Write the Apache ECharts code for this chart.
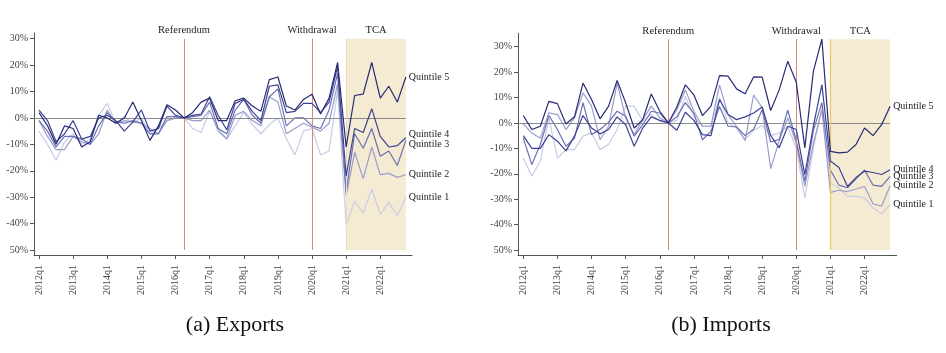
<!DOCTYPE html>
<html>
<head>
<meta charset="utf-8">
<script src="https://cdn.jsdelivr.net/npm/echarts@6/dist/echarts.min.js"></script>
<style>
  html, body { margin: 0; padding: 0; background: #fff; }
  #chart { width: 946px; height: 353px; }
</style>
</head>
<body>
<div id="chart"></div>
<script>
// x is the quarter index: 0 = 2012q1 ... 43 = 2022q4
const yearTicks = [0, 4, 8, 12, 16, 20, 24, 28, 32, 36, 40]
const yearLabels = ['2012q1', '2013q1', '2014q1', '2015q1', '2016q1', '2017q1', '2018q1', '2019q1', '2020q1', '2021q1', '2022q1']
const yTicks = [-50, -40, -30, -20, -10, 0, 10, 20, 30]
const quintileNames = ['Quintile 1', 'Quintile 2', 'Quintile 3', 'Quintile 4', 'Quintile 5']

// events (quarter index)
const referendumQ = 17
const withdrawalQ = 32
const tcaStartQ = 36
const tcaEndQ = 43

// (a) Exports, % change relative to 2016q2
const exportsQ1 = [-5, -10, -16, -9, -6, -10, -8, 1, 5.5, -2, 0.5, -2, 0, -6, -4, -1, 0, 0, -4, -5.5, 2.5, -4, -8, -3, 2, -2.5, -6, -2.5, 0, -8, -14, -5, -4, -14, -12.5, 10.5, -40.5, -31.5, -36, -27, -36.5, -32, -37, -30]
const exportsQ2 = [-1, -7, -12, -12, -7, -9, -10, -6, 3, -2, -1, -1.5, -2, -4, -6, -1, 0, 0, -1, -1, 3, -5, -8, 1, 2.5, -1, -3, 8, 6, -6, -4, -2, -3.5, -5, -2, 13, -29.5, -13, -23, -11, -21.5, -21, -22.5, -21.5]
const exportsQ3 = [-1, -5, -11, -7, -7, -8, -10, -3, 2, -1.5, -2, -1, -2, -6, -6, 0.5, 0.5, 0, 0.5, 1, 6, -4, -6, 3, 7, 1, -2, 8, 11, -3, 0, 0, -3, -4, 3, 17, -28, -6, -11.5, -4, -14.5, -12.5, -18, -8.5]
const exportsQ4 = [3, -1, -9, -6, -1, -8, -7, 0, 1, -1, -5, -1.5, 3, -5, -4, 4.5, 1, 0, 1, 1.5, 8, 1, -4.5, 5.5, 7, 2.5, -1, 12, 12.5, 2, 2.5, 5.5, 5.5, 2, 6, 19.5, -22, -4, -5.5, 3.5, -7, -11, -10.5, -7.5]
const exportsQ5 = [2, -3, -10, -3, -4, -11, -9, 1, 0, -2, 0, 6, -1, -8.5, -3, 5, 3, 0, 2, 6, 7.5, -1, -1, 6.5, 7.5, 4.5, 2.5, 14.5, 15.5, 4.5, 3, 7, 9, 1.5, 7.5, 21, -11, 8.5, 9, 21, 7.5, 12, 6, 15.5]

// (b) Imports
const importsQ1 = [-13.8, -21, -15, 2, -13.8, -10.5, -10.5, -5.2, -3.9, -10.5, -8.5, -2.6, 6.6, 6.6, 0.7, 3.3, 0.7, 0, 1, 10.5, 2.6, -1.3, -1.3, 10, 0, -2, -6.5, -3, -1, -5, -4, -1.5, -10, -29.5, -10, 6, -23.6, -25.6, -28.9, -28.9, -29.5, -33.5, -35.7, -32.2]
const importsQ2 = [-0.4, -4, -6, 4, 3.3, -2.6, 2, 11.8, 6.6, -6.6, -1.3, 15.7, 2, -4.6, 1.3, 6.6, 2, 0, 5.2, 13, 4.6, -1.3, -1.3, 15, 3.3, -1.5, -7, 11, 6, -18, -7, 2, -8, -25, -8, 5, -27.3, -26.5, -27, -26, -25, -31.8, -32.8, -24.7]
const importsQ3 = [-6, -16.4, -8.5, 2.9, -2.6, -9.2, -6, 8, -4.6, -2.6, 0.3, 4.6, 2.6, -5.2, -0.7, 4.6, 3.9, 0, 2.4, 8, 3.7, -6.6, -3.3, 6.5, -1.3, -1.6, -5, -2.5, 5.2, -7.5, -6.5, 5, -7, -23, -3, 8, -18.5, -24.5, -25.5, -22, -18.5, -24.5, -25, -21]
const importsQ4 = [-5, -10, -10, -4.6, -7.2, -11, -5.2, 2.9, -2, -4.3, -2.6, 2.4, -0.7, -9.2, -2, 2.4, 1, 0, -2.9, 4.2, 1, -4.6, -5, 9.2, 3.3, 1.3, 2.4, 3.9, 6.3, -5, -9.8, -1.3, -2.6, -20.3, -1.3, 15.1, -15, -17.5, -25, -21.5, -19, -19.5, -20.3, -18.4]
const importsQ5 = [2.9, -2.6, -1.3, 8.5, 7.6, -0.4, 2.4, 15.7, 9.2, 1.6, 6.6, 16.7, 7.9, -2, 1.3, 11.4, 4.6, 0, 6.3, 15, 11, 2.9, 6.6, 18.6, 18.4, 13.4, 11.5, 18.1, 18, 4.9, 13, 24.3, 16, -9.8, 20.3, 33, -11.2, -11.8, -11.5, -8.5, -2, -5, -0.7, 6.6]

const FONT = 'Liberation Serif'
const quintileColors = ['#c9cbe6', '#9a9dcc', '#6b70b3', '#3c4191', '#262a73']

const myEChart = echarts.init(document.getElementById('chart'))

const toPoints = (arr) => arr.map((v, i) => [i, v])

const panels = [
  {
    grid: { left: 34, top: 33, width: 378, height: 222 },
    xMin: -0.586, xMax: 43.72, yMin: -51.9, yMax: 32.16, shadeTop: 30,
    series: [exportsQ1, exportsQ2, exportsQ3, exportsQ4, exportsQ5],
    labelOffsets: [[0, 0], [0, 0], [0, 4], [0, -3], [0, 0]],
    edgeColor: '#eadcb6'
  },
  {
    grid: { left: 518, top: 33.3, width: 378.7, height: 221.7 },
    xMin: -0.62, xMax: 43.77, yMin: -51.97, yMax: 35.27, shadeTop: 32.9,
    series: [importsQ1, importsQ2, importsQ3, importsQ4, importsQ5],
    labelOffsets: [[0, 0], [0, 0], [0, 0], [0, 0], [0, 0]],
    edgeColor: '#f0c464'
  }
]

const grids = []
const xAxes = []
const yAxes = []
const series = []

panels.forEach((p, k) => {
  grids.push(p.grid)
  xAxes.push({
    type: 'value',
    gridIndex: k,
    min: p.xMin,
    max: p.xMax,
    axisLine: { onZero: false, lineStyle: { color: '#555', width: 1 } },
    axisTick: { customValues: yearTicks, length: 4, lineStyle: { color: '#555' } },
    axisLabel: {
      customValues: yearTicks,
      rotate: 90,
      margin: 10,
      fontFamily: FONT,
      fontSize: 10,
      color: '#444',
      formatter: (v) => yearLabels[yearTicks.indexOf(v)] || ''
    },
    splitLine: { show: false }
  })
  yAxes.push({
    type: 'value',
    gridIndex: k,
    min: p.yMin,
    max: p.yMax,
    axisLine: { show: true, onZero: false, lineStyle: { color: '#555', width: 1 } },
    axisTick: { show: true, customValues: yTicks, length: 4, lineStyle: { color: '#555' } },
    axisLabel: {
      customValues: yTicks,
      margin: 6,
      fontFamily: FONT,
      fontSize: 10,
      color: '#444',
      // the source figure prints the bottom tick without its minus sign
      formatter: (v) => (v === -50 ? '50%' : v + '%')
    },
    splitLine: { show: false }
  })

  // zero line and TCA left edge
  series.push({
    type: 'line',
    xAxisIndex: k,
    yAxisIndex: k,
    data: [],
    z: 1,
    silent: true,
    markLine: {
      symbol: ['none', 'none'],
      silent: true,
      animation: false,
      label: { show: false },
      data: [
        [{ coord: [p.xMin, 0], lineStyle: { color: '#8a8a8a', width: 1, type: 'solid' } }, { coord: [tcaEndQ, 0] }],
        [{ coord: [tcaStartQ, -50], lineStyle: { color: p.edgeColor, width: 1.2, type: 'solid' } }, { coord: [tcaStartQ, p.shadeTop] }]
      ]
    }
  })

  // Referendum / Withdrawal lines
  series.push({
    type: 'line',
    xAxisIndex: k,
    yAxisIndex: k,
    data: [],
    z: 1,
    silent: true,
    markLine: {
      symbol: ['none', 'none'],
      silent: true,
      animation: false,
      lineStyle: { color: '#d9897c', width: 1, type: 'solid' },
      label: {
        show: true,
        position: 'end',
        distance: 3,
        fontFamily: FONT,
        fontSize: 10.5,
        color: '#222',
        formatter: (prm) => prm.name
      },
      data: [
        [{ coord: [referendumQ, -50], name: 'Referendum' }, { coord: [referendumQ, p.shadeTop] }],
        [{ coord: [withdrawalQ, -50], name: 'Withdrawal' }, { coord: [withdrawalQ, p.shadeTop] }]
      ]
    }
  })

  // quintile lines
  p.series.forEach((arr, q) => {
    series.push({
      name: quintileNames[q],
      type: 'line',
      xAxisIndex: k,
      yAxisIndex: k,
      data: toPoints(arr),
      showSymbol: false,
      z: 2 + q,
      lineStyle: { color: quintileColors[q], width: 1.2 },
      itemStyle: { color: quintileColors[q] },
      endLabel: {
        show: true,
        formatter: quintileNames[q],
        fontFamily: FONT,
        fontSize: 10,
        color: '#222',
        distance: 3,
        offset: p.labelOffsets[q]
      }
    })
  })

  // TCA shading drawn over the lines (the source tints the lines inside it)
  series.push({
    type: 'line',
    xAxisIndex: k,
    yAxisIndex: k,
    data: [],
    z: 20,
    silent: true,
    markArea: {
      silent: true,
      animation: false,
      itemStyle: { color: 'rgba(222, 188, 108, 0.3)' },
      label: {
        show: true,
        position: 'top',
        distance: 3,
        fontFamily: FONT,
        fontSize: 10.5,
        color: '#222'
      },
      data: [[{ name: 'TCA', coord: [tcaStartQ, -50] }, { coord: [tcaEndQ, p.shadeTop] }]]
    }
  })
})

const option = {
  animation: false,
  backgroundColor: '#fff',
  grid: grids,
  xAxis: xAxes,
  yAxis: yAxes,
  series: series,
  graphic: [
    { type: 'text', x: 235, y: 325, style: { text: '(a) Exports', font: '22px "Liberation Serif"', fill: '#111', textAlign: 'center', textVerticalAlign: 'middle' } },
    { type: 'text', x: 721, y: 325, style: { text: '(b) Imports', font: '22px "Liberation Serif"', fill: '#111', textAlign: 'center', textVerticalAlign: 'middle' } }
  ]
}
myEChart.setOption(option)
</script>
</body>
</html>
